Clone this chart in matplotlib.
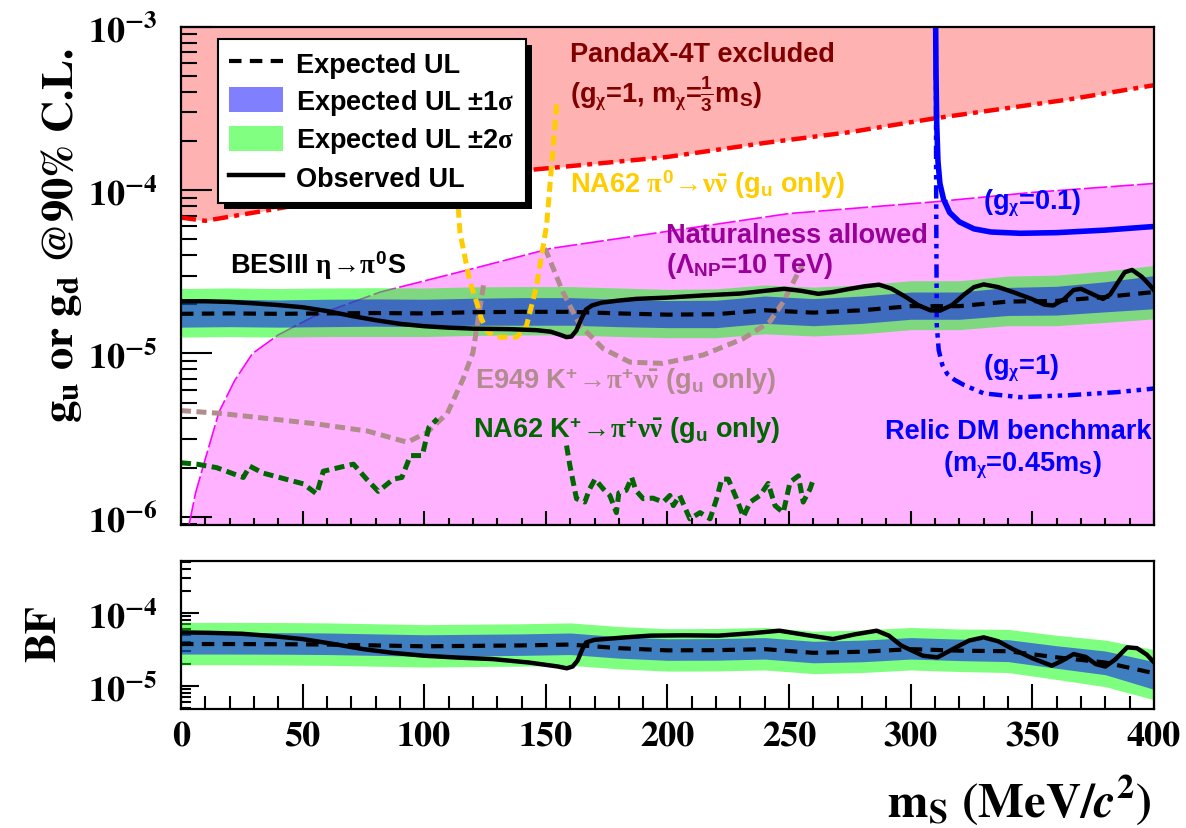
import numpy as np
import matplotlib
matplotlib.use('Agg')
import matplotlib.pyplot as plt
from matplotlib.patches import Patch, Rectangle
from matplotlib.lines import Line2D
from matplotlib.font_manager import FontProperties
from matplotlib.ticker import LogLocator, MultipleLocator, FuncFormatter, NullFormatter

plt.rcParams['font.family'] = 'STIXGeneral'
plt.rcParams['font.weight'] = 'bold'
plt.rcParams['mathtext.fontset'] = 'stix'
# 'custom' math font: bold sans for latin/digits, plain serif for greek (ROOT-like)
plt.rcParams['mathtext.rm'] = 'Liberation Sans:bold'
plt.rcParams['mathtext.it'] = 'Liberation Serif'
plt.rcParams['mathtext.bf'] = 'Liberation Sans:bold'
plt.rcParams['mathtext.sf'] = 'Liberation Sans:bold'

# ---------------- data (m_S in MeV) ----------------
grid = [0, 20, 40, 60, 80, 100, 120, 140, 160, 180, 200, 220, 240, 260, 280, 300, 320, 340, 360, 380, 400]

# top panel: coupling upper limits (x 1e-5)
g_exp = [1.75, 1.76, 1.75, 1.76, 1.77, 1.76, 1.79, 1.80, 1.80, 1.76, 1.73, 1.74, 1.84, 1.78, 1.84, 1.95, 1.95, 2.08, 2.10, 2.22, 2.38]
g_p1 = [2.14, 2.15, 2.13, 2.15, 2.16, 2.15, 2.18, 2.20, 2.20, 2.15, 2.11, 2.12, 2.25, 2.17, 2.25, 2.38, 2.38, 2.54, 2.58, 2.75, 3.00]
g_m1 = [1.45, 1.46, 1.45, 1.46, 1.47, 1.46, 1.49, 1.49, 1.49, 1.46, 1.44, 1.44, 1.53, 1.48, 1.53, 1.62, 1.62, 1.71, 1.72, 1.80, 1.88]
g_p2 = [2.50, 2.52, 2.50, 2.52, 2.53, 2.52, 2.56, 2.57, 2.57, 2.52, 2.47, 2.49, 2.63, 2.55, 2.63, 2.79, 2.79, 2.98, 3.02, 3.20, 3.46]
g_m2 = [1.26, 1.27, 1.26, 1.27, 1.27, 1.27, 1.29, 1.30, 1.30, 1.27, 1.25, 1.25, 1.32, 1.28, 1.32, 1.40, 1.40, 1.48, 1.48, 1.55, 1.63]

g_obs_x = [0, 10, 20, 30, 40, 50, 60, 70, 80, 90, 100, 110, 120, 135, 146, 152, 156, 158.5, 160.5, 162.5, 164.5, 166.5,
           169, 173, 180, 187, 200, 215, 230, 240, 248, 255, 262, 268, 275, 281, 287, 292, 298, 303, 308, 312, 317,
           322, 326, 330, 336, 342, 350, 355, 358.6, 363, 367, 370, 375, 379, 382, 385, 388, 391, 395, 398, 400]
g_obs = [2.09, 2.09, 2.07, 2.03, 1.98, 1.92, 1.82, 1.70, 1.60, 1.52, 1.47, 1.44, 1.42, 1.41, 1.39, 1.36, 1.30, 1.26, 1.27,
         1.38, 1.62, 1.86, 1.97, 2.05, 2.11, 2.16, 2.20, 2.27, 2.33, 2.42, 2.49, 2.42, 2.32, 2.38, 2.49, 2.58, 2.64, 2.50,
         2.22, 1.98, 1.84, 1.83, 1.98, 2.30, 2.55, 2.65, 2.55, 2.38, 2.15, 1.99, 1.97, 2.15, 2.45, 2.49, 2.30, 2.16, 2.30,
         2.70, 3.15, 3.25, 2.95, 2.65, 2.44]

# bottom panel: branching fraction upper limits (x 1e-5)
bf_exp = [3.76, 3.76, 3.74, 3.70, 3.60, 3.50, 3.55, 3.60, 3.70, 3.30, 3.08, 3.10, 3.20, 2.85, 2.95, 3.20, 3.05, 3.00, 2.47, 2.10, 1.50]
bf_p1 = [5.41, 5.41, 5.39, 5.33, 5.18, 5.04, 5.11, 5.18, 5.33, 4.75, 4.44, 4.46, 4.61, 4.10, 4.25, 4.61, 4.39, 4.32, 3.56, 3.02, 2.16]
bf_m1 = [2.74, 2.74, 2.73, 2.70, 2.63, 2.56, 2.59, 2.63, 2.70, 2.41, 2.25, 2.26, 2.34, 2.08, 2.15, 2.34, 2.23, 2.16, 1.75, 1.43, 0.90]
bf_p2 = [7.44, 7.44, 7.41, 7.33, 7.13, 6.93, 7.03, 7.13, 7.33, 6.53, 6.10, 6.14, 6.34, 5.64, 5.84, 6.34, 6.04, 5.97, 4.96, 4.26, 3.15]
bf_m2 = [1.96, 1.96, 1.94, 1.92, 1.87, 1.82, 1.85, 1.87, 1.92, 1.72, 1.60, 1.61, 1.66, 1.48, 1.53, 1.66, 1.58, 1.53, 1.23, 0.98, 0.65]

bf_obs_x = [0, 12, 25, 37, 50, 62, 75, 87, 100, 114, 128, 143, 150, 155, 158.6, 161, 163, 165, 166.6, 170, 174, 183,
            193, 207, 221, 235, 246, 257, 268, 277, 286, 291, 296, 305, 311, 318, 324, 330, 336, 342, 350, 358, 362,
            367, 372, 376, 380, 384, 389, 393, 397, 400]
bf_obs = [5.43, 5.35, 5.20, 4.85, 4.40, 3.80, 3.20, 2.85, 2.60, 2.45, 2.34, 2.10, 1.95, 1.85, 1.75, 1.85, 2.22, 3.20,
          3.96, 4.30, 4.40, 4.65, 4.90, 4.95, 4.90, 5.30, 5.73, 5.00, 4.40, 5.10, 5.73, 4.90, 3.60, 2.60, 2.47, 3.30,
          4.20, 4.64, 4.10, 3.20, 2.40, 1.90, 2.20, 2.74, 2.50, 2.00, 1.85, 2.30, 3.39, 3.30, 2.70, 2.11]

# PandaX-4T exclusion boundary
pandax_x = [0, 10, 30, 62, 100, 143, 200, 240, 275, 310, 365, 400]
pandax_g = [6.8e-5, 6.5e-5, 7.3e-5, 8.8e-5, 1.07e-4, 1.33e-4, 1.6e-4, 1.95e-4, 2.27e-4, 2.76e-4, 3.6e-4, 4.4e-4]

# naturalness boundary (Lambda_NP = 10 TeV)
nat_x = [3.3, 6, 10, 15.6, 22, 29.4, 40, 55, 82, 120, 152, 200, 250, 310, 350, 400]
nat_g = [8.9e-7, 1.4e-6, 2.26e-6, 4.37e-6, 6.8e-6, 1.0e-5, 1.3e-5, 1.7e-5, 2.38e-5, 3.31e-5, 4.4e-5, 5.6e-5, 7.2e-5, 8.5e-5, 9.7e-5, 1.1e-4]

# NA62 pi0 -> nu nubar
na62pi0_x = [111, 112.5, 114.7, 118.8, 121.5, 123.5, 126, 130, 138, 142, 146.2, 150.3, 152.5, 154.6]
na62pi0_g = [3.6e-4, 1.6e-4, 5.5e-5, 2.74e-5, 2.07e-5, 1.63e-5, 1.36e-5, 1.26e-5, 1.26e-5, 1.47e-5, 2.61e-5, 6.1e-5, 1.5e-4, 3.6e-4]

# E949 K+ -> pi+ nu nubar (two pieces)
e949a_x = [0, 16, 54.7, 76.6, 93, 101, 109.5, 116, 120, 124.5]
e949a_g = [4.47e-6, 4.3e-6, 3.72e-6, 3.35e-6, 2.86e-6, 3.27e-6, 4.3e-6, 7.0e-6, 1.01e-5, 2.7e-5]
e949b_x = [149.5, 150.3, 157, 164, 173.6, 184.6, 198, 214.7, 231, 242, 247.6, 253.8, 255.5]
e949b_g = [4.4e-5, 4.19e-5, 2.38e-5, 1.49e-5, 1.07e-5, 8.85e-6, 8.7e-6, 9.8e-6, 1.23e-5, 1.56e-5, 2.07e-5, 3.15e-5, 3.5e-5]

# NA62 K+ -> pi+ nu nubar (two pieces)
na62k_a_x = [0, 6.4, 14.6, 25.6, 28.3, 33.8, 50.3, 55.8, 58.5, 70.9, 76.3, 81.1, 87.3, 90.8, 94.3, 99.2, 101.9, 105.4]
na62k_a_g = [2.14e-6, 2.1e-6, 2.0e-6, 1.74e-6, 2.04e-6, 1.85e-6, 1.59e-6, 1.38e-6, 1.9e-6, 2.1e-6, 1.7e-6, 1.43e-6, 1.7e-6,
             1.74e-6, 2.37e-6, 2.37e-6, 3.53e-6, 3.98e-6]
na62k_b_x = [158.5, 159.9, 162.6, 166, 168, 170.2, 173.6, 176.3, 179, 180, 183, 185.3, 187, 190, 194, 198.3, 201, 202.4,
             205, 209.2, 213.4, 217.5, 220.2, 222.3, 225, 228.4, 231.2, 234, 238, 241.4, 244.2, 247.6, 250.4, 253.8,
             255.8, 258.6, 260]
na62k_b_g = [2.73e-6, 2.05e-6, 1.29e-6, 1.23e-6, 1.48e-6, 1.7e-6, 1.48e-6, 1.35e-6, 1.06e-6, 1.4e-6, 1.45e-6, 1.74e-6,
             1.45e-6, 1.29e-6, 1.3e-6, 1.23e-6, 1.35e-6, 1.17e-6, 1.35e-6, 9.7e-7, 1.06e-6, 9.7e-7, 1.29e-6, 1.7e-6,
             1.7e-6, 1.29e-6, 1.0e-6, 1.23e-6, 1.35e-6, 1.6e-6, 1.17e-6, 1.06e-6, 1.63e-6, 1.78e-6, 1.23e-6, 1.48e-6, 1.7e-6]

# relic DM benchmark
relic01_x = [310.25, 310.4, 310.7, 311.2, 312, 313.5, 316, 320, 326, 333, 345, 360, 380, 400]
relic01_g = [1e-3, 5e-4, 2.5e-4, 1.5e-4, 1.1e-4, 8.8e-5, 7.3e-5, 6.4e-5, 5.8e-5, 5.55e-5, 5.45e-5, 5.5e-5, 5.7e-5, 6.0e-5]
relic1_x = [310.3, 310.45, 310.7, 311.5, 313, 315, 318, 322, 330, 345, 365, 385, 400]
relic1_g = [1e-3, 1e-4, 1.5e-5, 1.05e-5, 8.5e-6, 7.5e-6, 6.9e-6, 6.4e-6, 5.7e-6, 5.4e-6, 5.55e-6, 5.8e-6, 6.1e-6]

e5 = lambda a: np.array(a) * 1e-5

# ---------------- figure ----------------
fig = plt.figure(figsize=(11.86, 8.29), dpi=100)
ax = fig.add_axes([0.1526, 0.3655, 0.8204, 0.6007])
axb = fig.add_axes([0.1526, 0.1435, 0.8204, 0.1785])

YMIN, YMAX = 8.9e-7, 1e-3

# exclusion / allowed regions
ax.fill_between(pandax_x, pandax_g, YMAX, color=(1, 0, 0, 0.3), lw=0, zorder=1)
ax.fill_between(nat_x, YMIN, nat_g, color=(1, 0, 1, 0.3), lw=0, zorder=1)
ax.plot(nat_x, nat_g, color='#ff00ff', lw=1.2, dashes=(14, 2), zorder=2)
ax.plot(pandax_x, pandax_g, color='red', lw=3.2, dashes=(3.4, 1.4, 1.1, 1.4), zorder=6)

# bands
ax.fill_between(grid, e5(g_m2), e5(g_p2), color=(0, 1, 0, 0.5), lw=0, zorder=3)
ax.fill_between(grid, e5(g_m1), e5(g_p1), color=(0, 0, 1, 0.5), lw=0, zorder=3)

# other experiments
dot = dict(lw=3.6, dashes=(2.0, 1.1), zorder=5)
ax.plot(e949a_x, e949a_g, color='#b08c8c', **dot)
ax.plot(e949b_x, e949b_g, color='#b08c8c', **dot)
ax.plot(na62k_a_x, na62k_a_g, color='#006600', **dot)
ax.plot(na62k_b_x, na62k_b_g, color='#006600', **dot)
ax.plot(na62pi0_x, na62pi0_g, color='#ffcc00', **dot)

ax.plot(relic1_x, relic1_g, color='#0000ff', lw=3.2, dashes=(3, 1.3, 1, 1.3, 1, 1.3), zorder=6)
ax.plot(relic01_x, relic01_g, color='#0000ff', lw=4, zorder=6)

# expected / observed
ax.plot(grid, e5(g_exp), color='k', lw=3, dashes=(3, 2), zorder=7)
ax.plot(g_obs_x, e5(g_obs), color='k', lw=3.2, zorder=8)

axb.fill_between(grid, e5(bf_m2), e5(bf_p2), color=(0, 1, 0, 0.5), lw=0, zorder=3)
axb.fill_between(grid, e5(bf_m1), e5(bf_p1), color=(0, 0, 1, 0.5), lw=0, zorder=3)
axb.plot(grid, e5(bf_exp), color='k', lw=3, dashes=(3, 2), zorder=7)
axb.plot(bf_obs_x, e5(bf_obs), color='k', lw=3.2, zorder=8)

# ---------------- axes styling ----------------
dec = FuncFormatter(lambda v, p: r'$\mathbf{10^{%d}}$' % int(round(np.log10(v))))
for a, ylim in ((ax, (YMIN, YMAX)), (axb, (4.84e-6, 5.15e-4))):
    a.set_xlim(0, 400)
    a.set_yscale('log')
    a.set_ylim(*ylim)
    a.xaxis.set_major_locator(MultipleLocator(50))
    a.xaxis.set_minor_locator(MultipleLocator(10))
    a.yaxis.set_major_locator(LogLocator(base=10, numticks=10))
    a.yaxis.set_minor_locator(LogLocator(base=10, subs=np.arange(2, 10), numticks=20))
    a.yaxis.set_major_formatter(dec)
    a.yaxis.set_minor_formatter(NullFormatter())
    for s in a.spines.values():
        s.set_linewidth(1.6)
        s.set_zorder(12)
    a.tick_params(which='both', direction='in', top=False, right=False, width=1.5, labelsize=26, zorder=12)

ax.tick_params(axis='y', which='major', length=22, pad=17)
ax.tick_params(axis='y', which='minor', length=11.5)
ax.tick_params(axis='x', which='major', length=10, labelbottom=False)
ax.tick_params(axis='x', which='minor', length=5)
axb.tick_params(axis='y', which='major', length=13, pad=17)
axb.tick_params(axis='y', which='minor', length=7)
axb.tick_params(axis='x', which='major', length=18, pad=9)
axb.tick_params(axis='x', which='minor', length=9.5)

fig.text(0.052, 0.716, r'$\mathbf{g_u}$ or $\mathbf{g_d}$ @90% C.L.', rotation=90,
         ha='center', va='center', fontsize=32)
fig.text(0.038, 0.236, 'BF', rotation=90, ha='center', va='center', fontsize=32)
fig.text(0.971, 0.035, r'$\mathbf{m_S}$ (MeV/$\mathbfit{c}^{\mathbf{2}}$)', ha='right', va='center', fontsize=35)

# ---------------- annotations ----------------
sans = dict(family='Liberation Sans', weight='bold', math_fontfamily='custom', fontsize=19.5, zorder=9)
ax.text(160, 6.82e-4, 'PandaX-4T excluded', color='#800000', va='center', **sans)
ax.text(160, 3.9e-4, r'(g$_{\chi}$=1, m$_{\chi}$=$\frac{1}{3}$m$_{\mathrm{S}}$)', color='#800000', va='center', **sans)
ax.text(160, 1.1e-4, r'NA62 $\pi^{0}\!\rightarrow\!\nu\bar{\nu}$ (g$_{\mathrm{u}}$ only)', color='#ffcc00', va='center', **sans)
ax.text(199.4, 5.3e-5, 'Naturalness allowed', color='#990099', va='center', **sans)
ax.text(199.4, 3.5e-5, r'($\Lambda_{\mathrm{NP}}$=10 TeV)', color='#990099', va='center', **sans)
ax.text(329.7, 8.4e-5, r'(g$_{\chi}$=0.1)', color='#0000ff', va='center', **sans)
ax.text(329.7, 8.2e-6, r'(g$_{\chi}$=1)', color='#0000ff', va='center', **sans)
ax.text(344, 3.37e-6, 'Relic DM benchmark', color='#0000ff', va='center', ha='center', **sans)
ax.text(345.7, 2.1e-6, r'(m$_{\chi}$=0.45m$_{\mathrm{S}}$)', color='#0000ff', va='center', ha='center', **sans)
ax.text(20.1, 3.47e-5, r'BESIII $\eta\!\rightarrow\!\pi^{0}$S', color='k', va='center', **sans)
ax.text(120.9, 6.8e-6, r'E949 K$^{+}\!\rightarrow\!\pi^{+}\nu\bar{\nu}$ (g$_{\mathrm{u}}$ only)', color='#b08c8c', va='center', **sans)
ax.text(120, 3.4e-6, r'NA62 K$^{+}\!\rightarrow\!\pi^{+}\nu\bar{\nu}$ (g$_{\mathrm{u}}$ only)', color='#006600', va='center', **sans)

# ---------------- legend ----------------
handles = [
    Line2D([], [], color='k', lw=3, dashes=(3, 2)),
    Patch(facecolor='#8080ff', edgecolor='none'),
    Patch(facecolor='#80ff80', edgecolor='none'),
    Line2D([], [], color='k', lw=3.2),
]
labels = ['Expected UL', r'Expected UL $\pm$1$\sigma$', r'Expected UL $\pm$2$\sigma$', 'Observed UL']
leg = ax.legend(handles, labels, loc='upper left', bbox_to_anchor=(0.038, 0.976),
                prop=FontProperties(family='Liberation Sans', weight='bold', size=19.5, math_fontfamily='custom'),
                frameon=True, fancybox=False, edgecolor='k', facecolor='white', framealpha=1,
                handlelength=2.0, handleheight=1.05, handletextpad=0.5, labelspacing=0.33,
                borderpad=0.4, borderaxespad=0)
leg.get_frame().set_linewidth(1.5)
leg.set_zorder(11)

fig.canvas.draw()
bb = leg.get_window_extent().transformed(ax.transAxes.inverted())
dx = 6 / (ax.bbox.width)
dy = 6 / (ax.bbox.height)
ax.add_patch(Rectangle((bb.x0 + dx, bb.y0 - dy), bb.width, bb.height, transform=ax.transAxes,
                       facecolor='k', edgecolor='none', zorder=10.5, clip_on=False))

fig.savefig('out.png', dpi=100)
